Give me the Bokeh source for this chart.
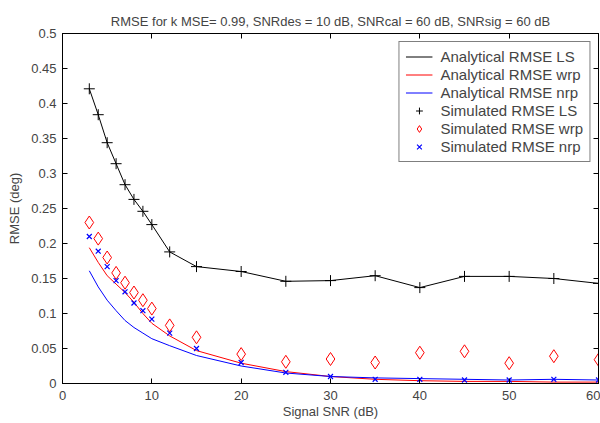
from bokeh.plotting import figure
from bokeh.models import Legend, LegendItem, LinearAxis, FixedTicker, Range1d, Title
from bokeh.embed import file_html
from bokeh.resources import INLINE

snr = [3, 4, 5, 6, 7, 8, 9, 10, 12, 15, 20, 25, 30, 35, 40, 45, 50, 55, 60]

sim_ls = [0.421, 0.384, 0.344, 0.314, 0.284, 0.263, 0.246, 0.227, 0.188, 0.167, 0.160,
          0.146, 0.147, 0.154, 0.137, 0.153, 0.153, 0.150, 0.143]
sim_wrp = [0.230, 0.207, 0.180, 0.158, 0.144, 0.130, 0.119, 0.107, 0.083, 0.066, 0.042,
           0.031, 0.035, 0.030, 0.044, 0.046, 0.029, 0.039, 0.034]
sim_nrp = [0.210, 0.189, 0.167, 0.147, 0.131, 0.115, 0.104, 0.092, 0.072, 0.050, 0.030,
           0.016, 0.010, 0.006, 0.006, 0.005, 0.005, 0.006, 0.005]
ana_wrp = [0.194, 0.173, 0.154, 0.142, 0.130, 0.116, 0.100, 0.086, 0.068, 0.047, 0.029,
           0.017, 0.010, 0.006, 0.004, 0.003, 0.003, 0.002, 0.002]
ana_nrp = [0.161, 0.138, 0.119, 0.104, 0.090, 0.080, 0.072, 0.064, 0.054, 0.040, 0.025,
           0.015, 0.010, 0.008, 0.007, 0.006, 0.005, 0.006, 0.005]

x_ticks = [0, 10, 20, 30, 40, 50, 60]
y_ticks = [0, 0.05, 0.1, 0.15, 0.2, 0.25, 0.3, 0.35, 0.4, 0.45, 0.5]
y_labels = ["0", "0.05", "0.1", "0.15", "0.2", "0.25", "0.3", "0.35", "0.4", "0.45", "0.5"]

FONT = "Liberation Sans"

p = figure(width=600, height=423, output_backend="svg", toolbar_location=None,
           x_range=Range1d(0, 60), y_range=Range1d(0, 0.5),
           min_border_left=62, min_border_right=2, min_border_top=33, min_border_bottom=40)
p.title = Title(text="RMSE for k MSE= 0.99, SNRdes = 10 dB, SNRcal = 60 dB, SNRsig = 60 dB",
                align="center", text_font=FONT, text_font_size="13px",
                text_font_style="normal", offset=0)
p.xgrid.visible = False
p.ygrid.visible = False
p.outline_line_color = "black"
p.outline_line_width = 1
p.background_fill_color = "white"
p.border_fill_color = "white"

for ax in (p.xaxis[0], p.yaxis[0]):
    ax.major_tick_in = 5
    ax.major_tick_out = 0
    ax.minor_tick_line_color = None
    ax.major_label_text_font = FONT
    ax.major_label_text_font_size = "13px"
    ax.axis_label_text_font = FONT
    ax.axis_label_text_font_size = "13px"
    ax.axis_label_text_font_style = "normal"
    ax.axis_line_color = "black"

p.xaxis[0].ticker = FixedTicker(ticks=x_ticks)
p.yaxis[0].ticker = FixedTicker(ticks=y_ticks)
p.yaxis[0].major_label_overrides = {t: l for t, l in zip(y_ticks, y_labels)}
p.xaxis[0].axis_label = "Signal SNR (dB)"
p.yaxis[0].axis_label = "RMSE (deg)"
p.xaxis[0].major_label_standoff = 7
p.yaxis[0].major_label_standoff = 6
p.xaxis[0].axis_label_standoff = 1
p.yaxis[0].axis_label_standoff = 6

top = LinearAxis(ticker=FixedTicker(ticks=x_ticks), major_tick_in=5, major_tick_out=0,
                 minor_tick_line_color=None, major_label_standoff=0,
                 major_label_overrides={t: "" for t in x_ticks})
right = LinearAxis(ticker=FixedTicker(ticks=y_ticks), major_tick_in=5, major_tick_out=0,
                   minor_tick_line_color=None, major_label_standoff=0,
                   major_label_overrides={t: "" for t in y_ticks})
p.add_layout(top, "above")
p.add_layout(right, "right")

r1 = p.line(snr, sim_ls, line_color="black", line_width=1)
r2 = p.line(snr, ana_wrp, line_color="red", line_width=1)
r3 = p.line(snr, ana_nrp, line_color="blue", line_width=1)
r4 = p.scatter(snr, sim_ls, marker="cross", size=11, line_color="black", line_width=1)
r5 = p.scatter(snr, sim_wrp, marker="diamond", size=13, line_color="red",
               fill_color=None, line_width=1)
r6 = p.scatter(snr, sim_nrp, marker="x", size=7, line_color="blue", line_width=1.2)

legend = Legend(items=[
    LegendItem(label="Analytical RMSE LS", renderers=[r1]),
    LegendItem(label="Analytical RMSE wrp", renderers=[r2]),
    LegendItem(label="Analytical RMSE nrp", renderers=[r3]),
    LegendItem(label="Simulated RMSE LS", renderers=[r4]),
    LegendItem(label="Simulated RMSE wrp", renderers=[r5]),
    LegendItem(label="Simulated RMSE nrp", renderers=[r6]),
], location="top_right")
legend.label_text_font = FONT
legend.label_text_font_size = "15px"
legend.label_height = 17
legend.glyph_height = 17
legend.glyph_width = 27
legend.spacing = 1
legend.padding = 6
legend.margin = 8
legend.border_line_color = "black"
legend.border_line_width = 1
legend.label_standoff = 8
p.add_layout(legend)

open("out.html", "w").write(file_html(p, INLINE))
